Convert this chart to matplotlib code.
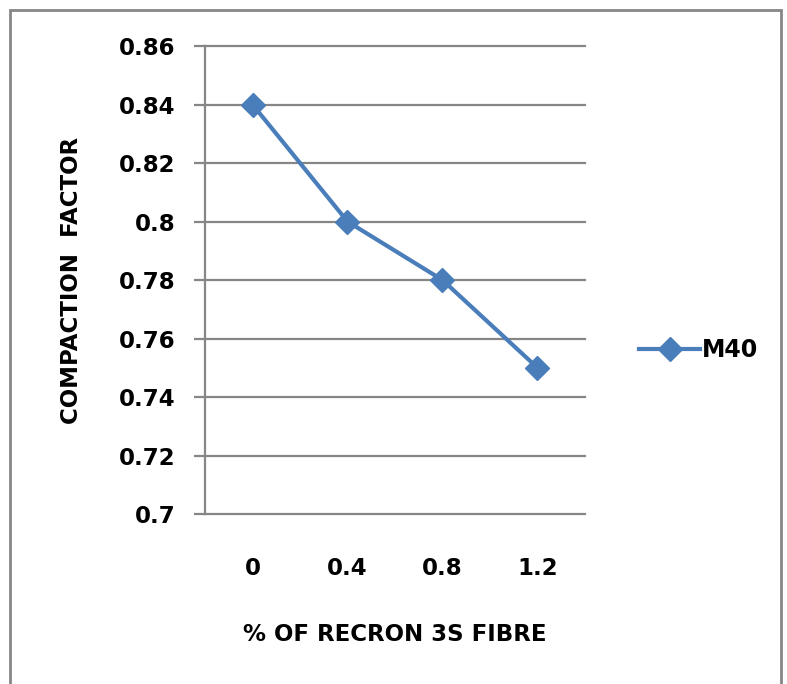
import matplotlib.pyplot as plt
from matplotlib.lines import Line2D

# data
categories = ['0', '0.4', '0.8', '1.2']
m40 = [0.84, 0.80, 0.78, 0.75]
yticks = [0.7, 0.72, 0.74, 0.76, 0.78, 0.8, 0.82, 0.84, 0.86]
ytick_labels = ['0.7', '0.72', '0.74', '0.76', '0.78', '0.8', '0.82', '0.84', '0.86']

line_color = '#4a7ebb'
grid_color = '#868686'

fig = plt.figure(figsize=(7.87, 6.84), dpi=100)
ax = fig.add_axes([0.2605, 0.2485, 0.4828, 0.6842])

x = list(range(len(categories)))
ax.plot(x, m40, color=line_color, lw=3, marker='D', markersize=12,
        label='M40', clip_on=False, zorder=3)

ax.set_xlim(-0.5, len(categories) - 0.5)
ax.set_ylim(0.7, 0.86)
ax.set_yticks(yticks)
ax.set_yticklabels(ytick_labels)
ax.set_xticks(x)
ax.set_xticklabels(categories)

for y in yticks[1:]:
    ax.axhline(y, color=grid_color, lw=1.6, zorder=1, clip_on=False)

for s in ['top', 'right']:
    ax.spines[s].set_visible(False)
for s in ['left', 'bottom']:
    ax.spines[s].set_color(grid_color)
    ax.spines[s].set_linewidth(1.6)

ax.tick_params(axis='y', length=8, width=1.6, color=grid_color, pad=13,
               labelsize=16.5)
ax.tick_params(axis='x', length=0, pad=31, labelsize=16.5)
for t in ax.get_xticklabels() + ax.get_yticklabels():
    t.set_fontweight('bold')

ax.set_ylabel('COMPACTION  FACTOR', fontsize=16.5, fontweight='bold', labelpad=26)
ax.set_xlabel('% OF RECRON 3S FIBRE', fontsize=16.5, fontweight='bold', labelpad=31)

handle = Line2D([], [], color=line_color, lw=3, marker='D', markersize=12)
fig.legend([handle], ['M40'], loc='center left', bbox_to_anchor=(0.785, 0.488),
           frameon=False, handlelength=2.6, handletextpad=0.05,
           prop={'size': 17, 'weight': 'bold'})

# outer chart border
border = plt.Rectangle((10 / 787, -0.05), (781 - 10) / 787, 1 - 10 / 684 + 0.05,
                       transform=fig.transFigure, fill=False,
                       edgecolor=grid_color, lw=2)
fig.patches.append(border)

fig.savefig('out.png', dpi=100)
